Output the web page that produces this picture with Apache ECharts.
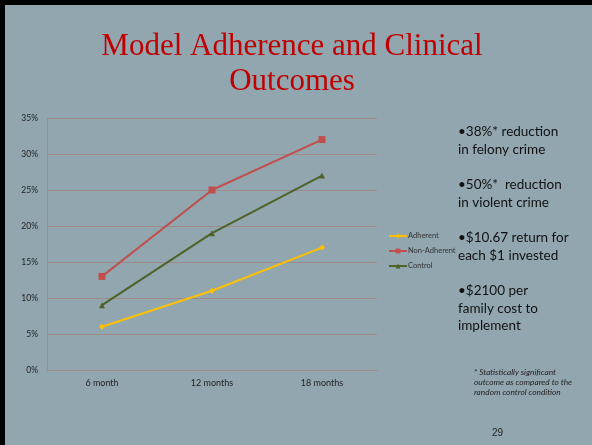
<!DOCTYPE html>
<html>
<head>
<meta charset="utf-8">
<script src="https://cdn.jsdelivr.net/npm/echarts@6/dist/echarts.min.js"></script>
<style>
  html, body { margin: 0; padding: 0; background: #000; }
  #chart { position: absolute; left: 5px; top: 5px; width: 587px; height: 440px; }
</style>
</head>
<body>
<div id="chart"></div>
<script>
// Follow-up points
const categories = ['6 month', '12 months', '18 months'];
// Outcome rates (%) per group
const adherent = [6, 11, 17];
const nonAdherent = [13, 25, 32];
const control = [9, 19, 27];
const seriesNames = ['Adherent', 'Non-Adherent', 'Control'];

const titleLines = ['Model Adherence and Clinical', 'Outcomes'];
const bullets = [
  ['•38%* reduction', 'in felony crime'],
  ['•50%*  reduction', 'in violent crime'],
  ['•$10.67 return for', 'each $1 invested'],
  ['•$2100 per', 'family cost to', 'implement']
];
const footnote = ['* Statistically significant', 'outcome as compared to the', 'random control condition'];
const pageNumber = '29';

const chart = echarts.init(document.getElementById('chart'), null, { renderer: 'canvas' });

const colors = ['#ffc000', '#c0504d', '#4f6228'];
const bodyFont = 'Lato, "Open Sans", sans-serif';

const graphics = [];
// slide title, each line centred
titleLines.forEach((line, i) => {
  graphics.push({
    type: 'text', x: 287, y: 42 + i * 35,
    style: {
      text: line, fill: '#c00000',
      font: '31px "Liberation Serif", "DejaVu Serif", serif',
      align: 'center', verticalAlign: 'middle'
    }
  });
});
// bullet points at the right
const bulletTops = [118, 171, 224, 277];
bullets.forEach((b, i) => {
  graphics.push({
    type: 'text', left: 453, top: bulletTops[i],
    style: {
      text: b.join('\n'), fill: '#111',
      font: '13.5px ' + bodyFont, lineHeight: 17.5
    }
  });
});
graphics.push({
  type: 'text', left: 469, top: 362,
  style: {
    text: footnote.join('\n'), fill: '#222',
    font: 'italic 8.3px ' + bodyFont, lineHeight: 10
  }
});
graphics.push({
  type: 'text', left: 487, top: 423,
  style: { text: pageNumber, fill: '#222', font: '10px "Liberation Sans", Arial, sans-serif' }
});

const option = {
  backgroundColor: '#92a6b0',
  animation: false,
  color: colors,
  grid: { left: 42, right: 215, top: 113, bottom: 75, containLabel: false },
  legend: {
    orient: 'vertical', left: 378, top: 222,
    itemWidth: 18, itemHeight: 6, itemGap: 7,
    textStyle: { fontSize: 7.5, color: '#333', fontFamily: bodyFont, padding: [0, 0, 0, -4] },
    data: seriesNames
  },
  xAxis: {
    type: 'category', data: categories, boundaryGap: true,
    axisLine: { lineStyle: { color: '#9c8b8b', width: 1 } },
    axisTick: { show: false },
    axisLabel: { color: '#222', fontSize: 9, margin: 9, fontFamily: bodyFont }
  },
  yAxis: {
    type: 'value', min: 0, max: 35, interval: 5,
    axisLine: { show: true, lineStyle: { color: '#9c8b8b' } },
    axisTick: { show: false },
    axisLabel: { color: '#222', fontSize: 8.5, margin: 9, formatter: '{value}%', fontFamily: bodyFont },
    splitLine: { lineStyle: { color: '#a08a8a', width: 1 } }
  },
  series: [
    { name: seriesNames[0], type: 'line', data: adherent, symbol: 'diamond', symbolSize: 6,
      lineStyle: { width: 2 } },
    { name: seriesNames[1], type: 'line', data: nonAdherent, symbol: 'rect', symbolSize: 7,
      lineStyle: { width: 2 } },
    { name: seriesNames[2], type: 'line', data: control, symbol: 'triangle', symbolSize: 6,
      lineStyle: { width: 2 } }
  ],
  graphic: graphics
};
chart.setOption(option);
</script>
</body>
</html>
